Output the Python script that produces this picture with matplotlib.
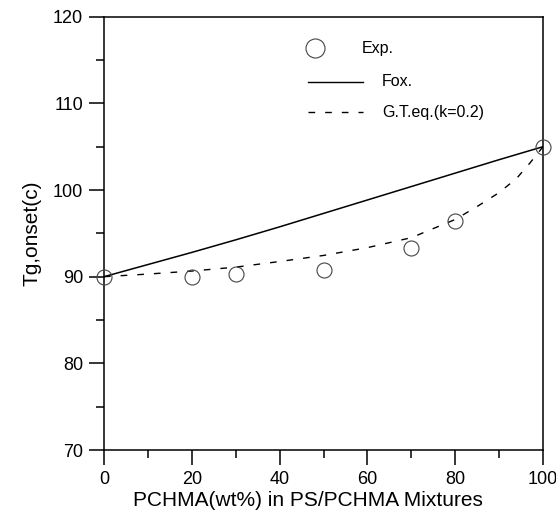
import matplotlib
matplotlib.use("Agg")
import matplotlib.pyplot as plt
from matplotlib.ticker import MultipleLocator

plt.rcParams['font.family'] = ['Liberation Sans', 'DejaVu Sans']

# Experimental points
exp_x = [0, 20, 30, 50, 70, 80, 100]
exp_y = [90.0, 90.0, 90.27, 90.77, 93.34, 96.46, 105.0]

# Fox equation curve
fox_x = [0, 10, 20, 30, 40, 50, 60, 70, 80, 90, 100]
fox_y = [90.0, 91.4, 92.8, 94.25, 95.75, 97.3, 98.85, 100.4, 101.95, 103.5, 105.0]

# Gordon-Taylor curve (k=0.2)
gt_x = [0, 10, 20, 30, 40, 50, 60, 70, 80, 85, 90, 94, 97, 100]
gt_y = [90.0, 90.3, 90.65, 91.1, 91.75, 92.45, 93.35, 94.5, 96.6, 98.1, 99.7, 101.35, 103.1, 105.0]

xticks = [0, 20, 40, 60, 80, 100]
yticks = [70, 80, 90, 100, 110, 120]

legend_labels = ["Exp.", "Fox.", "G.T.eq.(k=0.2)"]

fig = plt.figure(figsize=(5.56, 5.14), dpi=100)
ax = fig.add_axes([104/556, (514-450)/514, 439/556, 433.3/514])

ax.plot(fox_x, fox_y, color='black', lw=1.1, zorder=2)
ax.plot(gt_x, gt_y, color='black', lw=1.0, linestyle=(0, (4.8, 7.2)), zorder=2)
ax.plot(exp_x, exp_y, linestyle='none', marker='o', markersize=10.8,
        markerfacecolor='none', markeredgecolor='#444444', markeredgewidth=0.8,
        zorder=3, clip_on=False)

ax.set_xlim(0, 100)
ax.set_ylim(70, 120)
ax.set_xticks(xticks)
ax.set_yticks(yticks)
ax.xaxis.set_minor_locator(MultipleLocator(10))
ax.yaxis.set_minor_locator(MultipleLocator(5))
ax.tick_params(which='major', direction='out', length=11, width=1.1,
               labelsize=13, pad=4, top=False, right=False)
ax.tick_params(which='minor', direction='out', length=5.5, width=1.1,
               top=False, right=False)
for s in ax.spines.values():
    s.set_linewidth(1.1)

ax.set_xlabel("PCHMA(wt%) in PS/PCHMA Mixtures", fontsize=15)
ax.xaxis.set_label_coords((308-104)/439, -0.094)
ax.set_ylabel("Tg,onset(c)", fontsize=15)
ax.yaxis.set_label_coords(-0.142, 0.5)

# Manual legend (axes coordinates)
tr = ax.transAxes
ax.plot([0.481], [0.927], transform=tr, marker='o', markersize=13.7,
        markerfacecolor='none', markeredgecolor='#444444', markeredgewidth=0.8,
        linestyle='none')
ax.text(0.588, 0.927, legend_labels[0], transform=tr, fontsize=11.5, va='center', ha='left')
ax.plot([0.465, 0.590], [0.850, 0.850], transform=tr, color='black', lw=1.0)
ax.text(0.633, 0.850, legend_labels[1], transform=tr, fontsize=11.5, va='center', ha='left')
ax.plot([0.465, 0.590], [0.780, 0.780], transform=tr, color='black', lw=1.0,
        linestyle=(0, (4.8, 7.2)))
ax.text(0.633, 0.780, legend_labels[2], transform=tr, fontsize=11.5, va='center', ha='left')

fig.savefig("out.png", dpi=100)
